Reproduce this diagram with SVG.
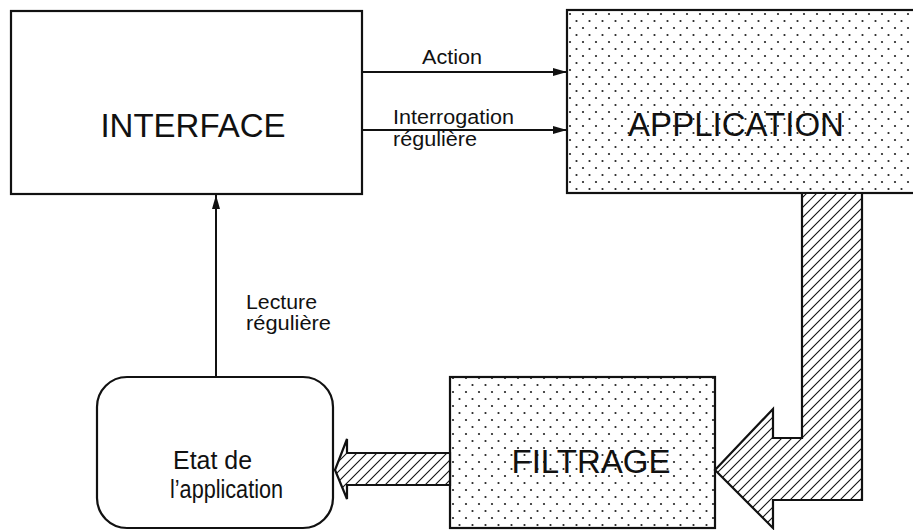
<svg xmlns="http://www.w3.org/2000/svg" width="913" height="530" viewBox="0 0 913 530">
<defs>
<pattern id="dots" patternUnits="userSpaceOnUse" width="13" height="14" x="567" y="10">
<rect width="13" height="14" fill="#fff"/>
<circle cx="3" cy="4" r="1.1" fill="#222"/>
<circle cx="9.5" cy="11" r="1.1" fill="#222"/>
</pattern>
<pattern id="hatch" patternUnits="userSpaceOnUse" width="10" height="10">
<rect width="10" height="10" fill="#fff"/>
<path d="M-1,11 L11,-1 M-3,3 L3,-3 M7,13 L13,7" stroke="#111" stroke-width="1.1"/>
</pattern>
<marker id="arr" viewBox="0 0 14 10" refX="14" refY="5" markerWidth="14" markerHeight="10" markerUnits="userSpaceOnUse" orient="auto">
<path d="M0,1 L14,5 L0,9 Z" fill="#111"/>
</marker>
<style>
.box{stroke:#111;stroke-width:2.2}
.big{font-family:"Liberation Sans",Arial,sans-serif;font-size:33px;fill:#111;text-anchor:middle}
.mid{font-family:"Liberation Sans",Arial,sans-serif;font-size:25px;fill:#111}
.lbl{font-family:"Liberation Sans",Arial,sans-serif;font-size:20px;fill:#111}
.conn{stroke:#111;stroke-width:2;fill:none}
</style>
</defs>
<rect width="913" height="530" fill="#fff"/>
<g id="interface">
<rect class="box" x="11" y="11" width="351" height="183" fill="#fff"/>
<text class="big" x="193" y="137">INTERFACE</text>
</g>
<g id="application">
<rect class="box" x="567" y="10" width="360" height="183" fill="url(#dots)"/>
<text class="big" x="736" y="136">APPLICATION</text>
</g>
<g id="filtrage">
<rect class="box" x="450" y="377" width="265" height="151" fill="url(#dots)"/>
<text class="big" x="591" y="473">FILTRAGE</text>
</g>
<g id="etat">
<rect class="box" x="97" y="377" width="236" height="151" rx="30" ry="30" fill="#fff"/>
<text class="mid" x="173" y="469" textLength="79" lengthAdjust="spacingAndGlyphs">Etat de</text>
<text class="mid" x="170" y="498" textLength="113" lengthAdjust="spacingAndGlyphs">l’application</text>
</g>
<g id="connectors">
<line class="conn" x1="362" y1="72" x2="567" y2="72" marker-end="url(#arr)"/>
<line class="conn" x1="362" y1="130" x2="567" y2="130" marker-end="url(#arr)"/>
<line class="conn" x1="216" y1="377" x2="216" y2="195" marker-end="url(#arr)"/>
<path class="box" fill="url(#hatch)" d="M802,193 L862,193 L862,500 L773,500 L773,528 L715,470 L773,409 L773,438 L802,438 Z"/>
<path class="box" fill="url(#hatch)" d="M450,453 L347,453 L347,439 L335,470 L347,499 L347,485 L450,485 Z"/>
</g>
<g id="labels">
<text class="lbl" x="422" y="64" textLength="60" lengthAdjust="spacingAndGlyphs">Action</text>
<text class="lbl" x="393" y="124" textLength="121" lengthAdjust="spacingAndGlyphs">Interrogation</text>
<text class="lbl" x="393" y="146" textLength="84" lengthAdjust="spacingAndGlyphs">régulière</text>
<text class="lbl" x="246" y="309" textLength="71" lengthAdjust="spacingAndGlyphs">Lecture</text>
<text class="lbl" x="246" y="330" textLength="85" lengthAdjust="spacingAndGlyphs">régulière</text>
</g>
</svg>
